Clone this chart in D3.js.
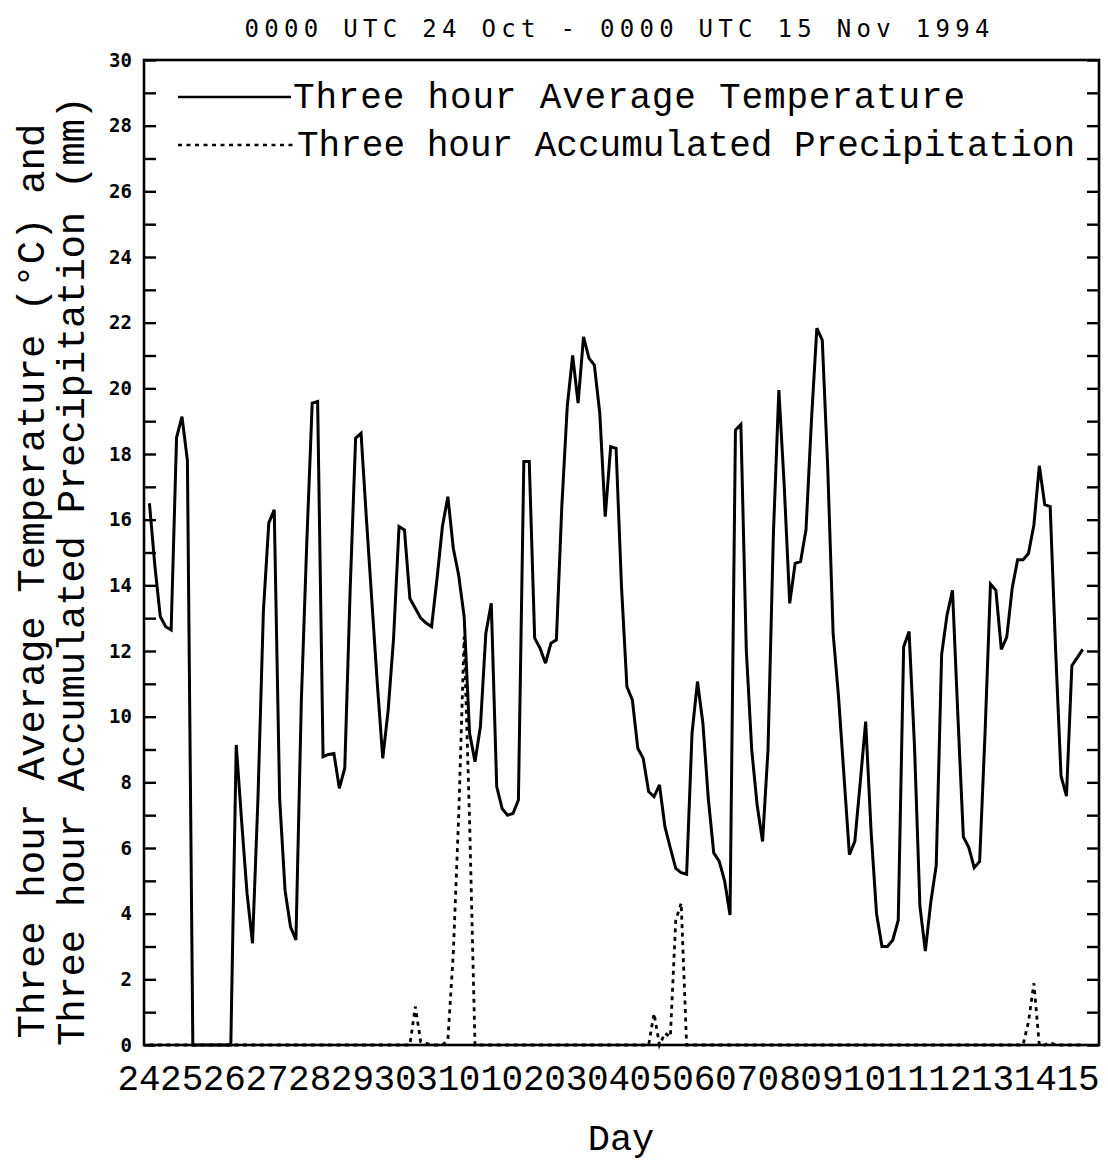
<!DOCTYPE html>
<html>
<head>
<meta charset="utf-8">
<script src="https://cdn.jsdelivr.net/npm/d3@7"></script>
<style>
  html, body { margin: 0; padding: 0; background: #ffffff; }
  svg { display: block; }
</style>
</head>
<body>
<svg id="chart" width="1108" height="1168"></svg>
<script>
// ---------------- data ----------------
const titleText = "0000 UTC 24 Oct - 0000 UTC 15 Nov 1994";
const dayLabels = ["24","25","26","27","28","29","30","31","01","02","03","04",
                   "05","06","07","08","09","10","11","12","13","14","15"];
const yLabelValues = [0,2,4,6,8,10,12,14,16,18,20,22,24,26,28,30];
const yTickValues = d3.range(0, 31, 1);
const legendLabels = ["Three hour Average Temperature", "Three hour Accumulated Precipitation"];
const yTitleLines = ["Three hour Average Temperature (\u00B0C) and", "Three hour Accumulated Precipitation (mm)"];
const xTitle = "Day";

// 3-hourly values, first value at 0300 UTC 24 Oct (hours since 0000 UTC 24 Oct)
const firstHour = 3;
const stepHours = 3;
const temperature = [
  16.5, 14.6, 13.05, 12.74, 12.64, 18.5, 19.14, 17.8,
  0, 0, 0, 0, 0, 0, 0, 0,
  9.14, 6.8, 4.6, 3.1, 7.5, 13.2, 15.9, 16.3,
  7.5, 4.7, 3.6, 3.2, 10.5, 15.3, 19.55, 19.6,
  8.78, 8.85, 8.88, 7.82, 8.43, 13.9, 18.48, 18.63,
  16.0, 13.5, 11.0, 8.73, 10.2, 12.4, 15.79, 15.69,
  13.6, 13.3, 13.0, 12.85, 12.74, 14.2, 15.8, 16.7,
  15.13, 14.3, 13.05, 9.5, 8.63, 9.7, 12.54, 13.45,
  7.87, 7.2, 7.0, 7.05, 7.46, 17.77, 17.77, 12.39,
  12.08, 11.63, 12.24, 12.34, 16.4, 19.44, 21.0, 19.55,
  21.57, 20.92, 20.71, 19.24, 16.09, 18.22, 18.17, 13.96,
  10.91, 10.51, 9.04, 8.73, 7.72, 7.56, 7.92, 6.65,
  6.0, 5.38, 5.25, 5.2, 9.5, 11.07, 9.8, 7.5,
  5.85, 5.6, 5.0, 3.96, 18.73, 18.9, 12.03, 8.99,
  7.3, 6.2, 8.99, 15.6, 19.95, 17.0, 13.45, 14.67,
  14.72, 15.69, 19.0, 21.83, 21.47, 17.62, 12.54, 10.6,
  8.2, 5.8, 6.2, 8.0, 9.85, 6.5, 4.0, 3.0,
  3.0, 3.2, 3.8, 12.13, 12.59, 9.09, 4.22, 2.86,
  4.35, 5.47, 11.9, 13.1, 13.85, 10.0, 6.34, 6.02,
  5.4, 5.59, 9.5, 14.04, 13.85, 12.05, 12.42, 13.91,
  14.78, 14.78, 14.97, 15.84, 17.64, 16.46, 16.4, 12.05,
  8.2, 7.58, 11.55, 11.8, 12.05
];
const precipitation = [
  0, 0, 0, 0, 0, 0, 0, 0,
  0, 0, 0, 0, 0, 0, 0, 0,
  0, 0, 0, 0, 0, 0, 0, 0,
  0, 0, 0, 0, 0, 0, 0, 0,
  0, 0, 0, 0, 0, 0, 0, 0,
  0, 0, 0, 0, 0, 0, 0, 0,
  0, 1.17, 0.1, 0.05, 0, 0, 0, 0.15,
  2.79, 7.0, 12.44, 6.85, 0, 0, 0, 0,
  0, 0, 0, 0, 0, 0, 0, 0,
  0, 0, 0, 0, 0, 0, 0, 0,
  0, 0, 0, 0, 0, 0, 0, 0,
  0, 0, 0, 0, 0, 0.96, 0, 0.36,
  0.25, 3.8, 4.32, 0, 0, 0, 0, 0,
  0, 0, 0, 0, 0, 0, 0, 0,
  0, 0, 0, 0, 0, 0, 0, 0,
  0, 0, 0, 0, 0, 0, 0, 0,
  0, 0, 0, 0, 0, 0, 0, 0,
  0, 0, 0, 0, 0, 0, 0, 0,
  0, 0, 0, 0, 0, 0, 0, 0,
  0, 0, 0, 0, 0, 0, 0, 0,
  0, 0, 0.7, 1.88, 0, 0, 0.08, 0,
  0, 0, 0, 0, 0
];
const totalHours = 22 * 24;

// ---------------- layout ----------------
const svg = d3.select("#chart");
const plot = { left: 144, right: 1099, top: 60, bottom: 1045 };
const monoSerif = "'Liberation Mono', 'DejaVu Sans Mono', monospace";
const monoSans = "'DejaVu Sans Mono', 'Liberation Mono', monospace";

const x = d3.scaleLinear().domain([0, totalHours]).range([plot.left, plot.right]);
const y = d3.scaleLinear().domain([0, 30]).range([plot.bottom, plot.top]);
const xLab = d3.scalePoint().domain(dayLabels).range([139, 1078]);

svg.append("rect").attr("width", 1108).attr("height", 1168).attr("fill", "#fff");

// title
svg.append("text")
  .attr("x", 617).attr("y", 37)
  .attr("text-anchor", "middle")
  .attr("textLength", 745).attr("lengthAdjust", "spacing")
  .style("font-family", monoSans).style("font-size", "24px").style("fill", "#000")
  .text(titleText);

// ticks: left (inward), right (inward)
const tickStyle = g => {
  g.select(".domain").remove();
  g.selectAll(".tick line").attr("stroke", "#000").attr("stroke-width", 2.4);
};
svg.append("g").attr("transform", `translate(${plot.left},0)`)
  .call(d3.axisRight(y).tickValues(yTickValues).tickSize(12).tickFormat(""))
  .call(tickStyle);
svg.append("g").attr("transform", `translate(${plot.right},0)`)
  .call(d3.axisLeft(y).tickValues(yTickValues).tickSize(12).tickFormat(""))
  .call(tickStyle);

// left labels
const yl = svg.append("g").attr("transform", `translate(${plot.left},0)`)
  .call(d3.axisLeft(y).tickValues(yLabelValues).tickSize(0).tickPadding(12).tickFormat(d3.format("d")));
yl.select(".domain").remove();
yl.selectAll("text")
  .style("font-family", monoSans).style("font-weight", "bold")
  .style("font-size", "19px").attr("fill", "#000");

// frame
svg.append("rect")
  .attr("x", x(0)).attr("y", y(30))
  .attr("width", x(totalHours) - x(0)).attr("height", y(0) - y(30))
  .attr("fill", "none").attr("stroke", "#000").attr("stroke-width", 2.6);

// series
const tempPts = temperature.map((v, i) => ({ h: firstHour + i * stepHours, v }));
const precPts = precipitation.map((v, i) => ({ h: firstHour + i * stepHours, v }));
const line = d3.line().x(d => x(d.h)).y(d => y(d.v));

svg.append("path").datum(precPts)
  .attr("d", line).attr("fill", "none").attr("stroke", "#000")
  .attr("stroke-width", 2.8).attr("stroke-dasharray", "4,4.5");

svg.append("path").datum(tempPts)
  .attr("d", line).attr("fill", "none").attr("stroke", "#000")
  .attr("stroke-width", 3).attr("stroke-linejoin", "miter").attr("stroke-miterlimit", 3);

// legend
const legend = svg.append("g");
legend.append("line").attr("x1", 178).attr("x2", 291).attr("y1", 97).attr("y2", 97)
  .attr("stroke", "#000").attr("stroke-width", 2.6);
legend.append("line").attr("x1", 178).attr("x2", 293).attr("y1", 145).attr("y2", 145)
  .attr("stroke", "#000").attr("stroke-width", 2.6).attr("stroke-dasharray", "4,4.5");
legend.append("text").attr("x", 293).attr("y", 108)
  .attr("textLength", 672).attr("lengthAdjust", "spacing")
  .style("font-family", monoSerif).style("font-size", "36px").style("fill", "#000")
  .text(legendLabels[0]);
legend.append("text").attr("x", 297).attr("y", 156)
  .attr("textLength", 778).attr("lengthAdjust", "spacing")
  .style("font-family", monoSerif).style("font-size", "36px").style("fill", "#000")
  .text(legendLabels[1]);

// x labels
svg.append("g").selectAll("text").data(dayLabels).join("text")
  .attr("x", d => xLab(d)).attr("y", 1090)
  .attr("text-anchor", "middle")
  .style("font-family", monoSerif).style("font-size", "36px").style("fill", "#000")
  .text(d => d);

// axis titles
svg.append("text").attr("x", 621).attr("y", 1150).attr("text-anchor", "middle")
  .style("font-family", monoSerif).style("font-size", "37px").style("fill", "#000")
  .text(xTitle);

const yTitlePos = [{ bx: 44, cy: 581, len: 915 }, { bx: 84, cy: 571, len: 950 }];
yTitleLines.forEach((t, i) => {
  svg.append("text")
    .attr("transform", `translate(${yTitlePos[i].bx},${yTitlePos[i].cy}) rotate(-90)`)
    .attr("text-anchor", "middle")
    .attr("textLength", yTitlePos[i].len).attr("lengthAdjust", "spacing")
    .style("font-family", monoSerif).style("font-size", "39px").style("fill", "#000")
    .text(t);
});
</script>
</body>
</html>
